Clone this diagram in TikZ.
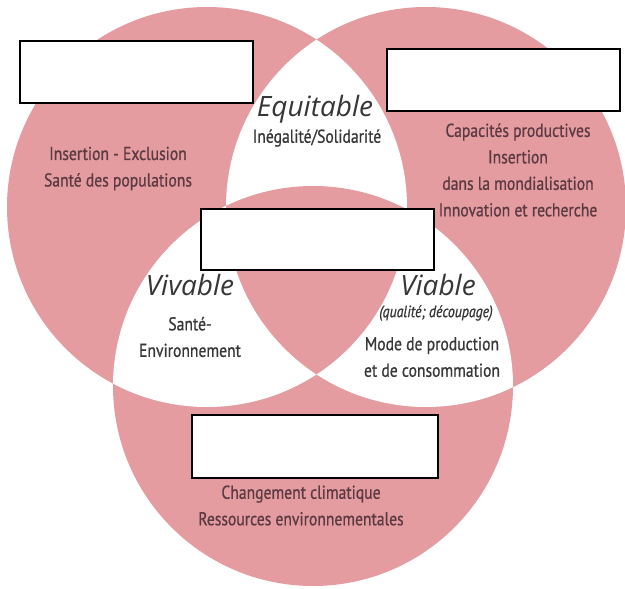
\documentclass[tikz,border=0pt]{standalone}
\usepackage{fontspec}
\setmainfont{Open Sans}
\newfontfamily\narrowfont[FakeStretch=0.84,FakeBold=0.8]{PT Sans}
\definecolor{venn}{RGB}{229,156,161}
\definecolor{pinktext}{RGB}{92,58,66}
\definecolor{greytext}{RGB}{55,55,55}
\tikzset{
	blank/.style={draw=black,line width=1.4pt,fill=white,inner sep=0pt},
	titre/.style={font=\fontsize{28}{30}\selectfont\itshape,text=greytext,inner sep=0pt},
	sujet/.style={font=\narrowfont\fontsize{18.6}{26.5}\selectfont,align=center,inner sep=0pt},
}
\begin{document}
\begin{tikzpicture}[x=1pt,y=-1pt]
		\useasboundingbox (0,0) rectangle (625,589);
		\path
		(207,207) coordinate (soc)
		(426,207) coordinate (eco)
		(313,386) coordinate (env);
		\def\r{200}
		% les trois cercles, les zones doubles en blanc
		\foreach \c in {soc,eco,env} \fill[venn] (\c) circle[radius=\r];
		\begin{scope}
			\clip (soc) circle[radius=\r];
			\fill[white] (eco) circle[radius=\r] (env) circle[radius=\r];
		\end{scope}
		\begin{scope}
			\clip (eco) circle[radius=\r];
			\fill[white] (env) circle[radius=\r];
		\end{scope}
		\begin{scope}
			\clip (soc) circle[radius=\r];
			\clip (eco) circle[radius=\r];
			\fill[venn] (env) circle[radius=\r];
		\end{scope}
		% cadres vides
		\node[blank,minimum width=233pt,minimum height=62pt] (boxsoc) at (136.5,72) {};
		\node[blank,minimum width=233pt,minimum height=62pt] (boxeco) at (503.5,80) {};
		\node[blank,minimum width=233pt,minimum height=61pt] (boxmid) at (317.5,239.5) {};
		\node[blank,minimum width=246pt,minimum height=63pt] (boxenv) at (315,446.5) {};
		% textes
		\node[titre] (equi) at (315,109) {Equitable};
		\node[sujet,text=greytext] (equisub) at (317,138) {Inégalité/Solidarité};
		\node[sujet,text=pinktext] (soctxt) at (118,168.5) {Insertion - Exclusion\\Santé des populations};
		\node[sujet,text=pinktext] (ecotxt) at (518,170) {Capacités productives\\Insertion\\dans la mondialisation\\Innovation et recherche};
		\node[titre] (viva) at (190,285) {Vivable};
		\node[sujet,text=greytext] (vivasub) at (190,337) {Santé-\\Environnement};
		\node[titre] (via) at (438,285) {Viable};
		\node[sujet,text=greytext,font=\narrowfont\itshape\fontsize{16.5}{18}\selectfont] (vianote) at (436,313) {(qualité; découpage)};
		\node[sujet,text=greytext] (viasub) at (432,357) {Mode de production\\et de consommation};
		\node[sujet,text=pinktext] (envtxt) at (301,505.5) {Changement climatique\\Ressources environnementales};
	\end{tikzpicture}
\end{document}
